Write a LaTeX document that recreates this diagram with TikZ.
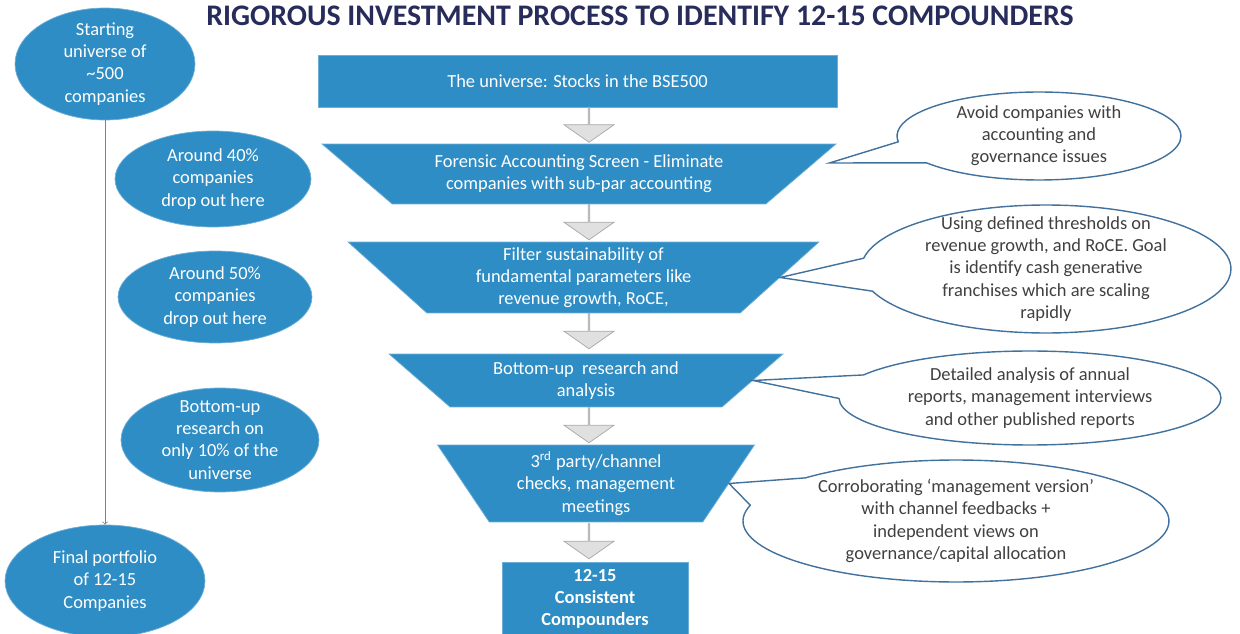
\documentclass[tikz,border=0pt]{standalone}
\usepackage{fontspec}
\setmainfont{Carlito}
\usetikzlibrary{shapes.geometric,shapes.arrows,shapes.callouts}
\definecolor{procblue}{RGB}{46,141,196}
\definecolor{procedge}{RGB}{110,175,215}
\definecolor{titlenavy}{RGB}{40,44,90}
\definecolor{noteedge}{RGB}{65,113,156}
\definecolor{notetext}{RGB}{64,64,64}

\begin{document}
\begin{tikzpicture}[
			x=0.02cm, y=-0.02cm,
			font=\fontsize{10.5}{12.6}\selectfont,
			stage/.style={
				draw=procedge,
				fill=procblue,
				text=white,
				align=center,
				inner sep=1pt
			},
			funnel/.style={
				stage,
				trapezium,
				shape border rotate=180,
				trapezium stretches body,
				trapezium angle=#1
			},
			tally/.style={
				stage,
				ellipse,
				inner sep=-0.15cm
			},
			droparrow/.style={
				single arrow,
				rotate=-90,
				draw=black!35,
				fill=black!12,
				inner sep=0,
				minimum width=1cm,
				minimum height=0.7cm,
				single arrow head extend=0.21cm,
				single arrow tip angle=110
			},
			bubble/.style={
				ellipse callout,
				draw=noteedge,
				line width=0.8pt,
				fill=white,
				text=notetext,
				align=center,
				inner sep=-0.15cm,
				callout pointer arc=30
			}
		]
		\useasboundingbox (0,0) rectangle (1240,634);

		\node [font=\fontsize{17}{20}\selectfont\bfseries, text=titlenavy] (TITLE) at (640,16) {RIGOROUS INVESTMENT PROCESS TO IDENTIFY 12-15 COMPOUNDERS};

		% the funnel
		\node [stage, minimum width=10.38cm, minimum height=1.04cm] (UNI) at (577.5,81) {The universe: Stocks in the BSE500};
		\node [funnel=30.7, minimum width=10.28cm, minimum height=1.2cm] (FOR) at (579,174) {Forensic Accounting Screen - Eliminate\\companies with sub-par accounting};
		\node [funnel=39, minimum width=9.42cm, minimum height=1.42cm] (FIL) at (583.5,277.5) {Filter sustainability of\\fundamental parameters like\\revenue growth, RoCE,};
		\node [funnel=34.2, minimum width=7.88cm, minimum height=1.06cm] (BUP) at (586,380.5) {Bottom-up\ \ research and\\analysis};
		\node [funnel=52.3, minimum width=6.34cm, minimum height=1.54cm] (CHK) at (596,483.5) {3\textsuperscript{rd} party/channel\\checks, management\\meetings};
		\node [stage, font=\fontsize{10.5}{12.6}\selectfont\bfseries, minimum width=3.72cm, minimum height=1.48cm] (COMP) at (595,599) {12-15\\Consistent\\Compounders};
		\foreach \y [count=\i] in {124.5, 222, 331, 425, 541}
			\node [droparrow] (A\i) at (589,\y) {};

		% the counts on the left
		\node [tally, minimum width=3.6cm, minimum height=2.24cm] (START) at (105,64) {Starting\\universe of\\\textasciitilde500\\companies};
		\node [tally, minimum width=3.92cm, minimum height=1.92cm] (DROPA) at (213,179) {Around 40\%\\companies\\drop out here};
		\node [tally, minimum width=3.88cm, minimum height=1.84cm] (DROPB) at (215,297) {Around 50\%\\companies\\drop out here};
		\node [tally, minimum width=3.96cm, minimum height=2.08cm] (RES) at (220,440) {Bottom-up\\research on\\only 10\% of the\\universe};
		\node [tally, minimum width=4cm, minimum height=2.24cm] (FINAL) at (105,581) {Final portfolio\\of 12-15\\Companies};
		\draw [->, black!50] (START) -- (FINAL);

		% the notes on the right
		\node [bubble, minimum width=5.68cm, minimum height=1.76cm, callout absolute pointer={([shift={(28,-11)}]FOR.east)}] (NOTEA) at (1039,136) {Avoid companies with\\accounting and\\governance issues};
		\node [bubble, minimum width=7.4cm, minimum height=2.56cm, callout absolute pointer={(FIL.east)}] (NOTEB) at (1046,269) {Using defined thresholds on\\revenue growth, and RoCE. Goal\\is identify cash generative\\franchises which are scaling\\rapidly};
		\node [bubble, minimum width=7.64cm, minimum height=1.88cm, callout absolute pointer={(BUP.east)}] (NOTEC) at (1030,398) {Detailed analysis of annual\\reports, management interviews\\and other published reports};
		\node [bubble, minimum width=8.52cm, minimum height=2.44cm, callout absolute pointer={(CHK.east)}] (NOTED) at (956,521) {Corroborating `management version'\\with channel feedbacks +\\independent views on\\governance/capital allocation};

	\end{tikzpicture}
\end{document}
